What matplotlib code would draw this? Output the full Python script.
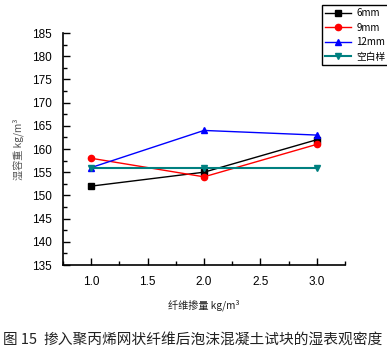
import matplotlib
matplotlib.use("Agg")
import matplotlib.pyplot as plt
from matplotlib.ticker import MultipleLocator

plt.rcParams['font.family'] = ['Liberation Sans', 'Noto Sans CJK SC', 'DejaVu Sans']

x_vals = [1.0, 2.0, 3.0]
s_6mm = [152, 155, 162]
s_9mm = [158, 154, 161]
s_12mm = [156, 164, 163]
s_blank = [156, 156, 156]
labels = ["6mm", "9mm", "12mm", "空白样"]
xtick_labels = ['1.0', '1.5', '2.0', '2.5', '3.0']

fig = plt.figure(figsize=(3.87, 3.56), dpi=100)
ax = fig.add_axes([63/387, 1-265/356, (345-63)/387, (265-33)/356])

ax.plot(x_vals, s_6mm, color='black', marker='s', ms=4, lw=1, label=labels[0])
ax.plot(x_vals, s_9mm, color='red', marker='o', ms=4.5, lw=1, label=labels[1])
ax.plot(x_vals, s_12mm, color='blue', marker='^', ms=5, lw=1, label=labels[2])
ax.plot(x_vals, s_blank, color='#008080', marker='v', ms=5, lw=1.5, label=labels[3])

ax.set_xlim(0.75, 3.25)
ax.set_ylim(135, 185)
ax.xaxis.set_minor_locator(MultipleLocator(0.25))
ax.yaxis.set_major_locator(MultipleLocator(5))
ax.yaxis.set_minor_locator(MultipleLocator(2.5))
ax.set_xticks([1.0, 1.5, 2.0, 2.5, 3.0])
ax.set_xticklabels(xtick_labels)
ax.tick_params(which='major', direction='in', length=5, width=1, labelsize=8.5, pad=8)
ax.tick_params(which='minor', direction='in', length=3, width=1)
ax.spines['top'].set_visible(False)
ax.spines['right'].set_visible(False)
ax.spines['left'].set_linewidth(1.2)
ax.spines['bottom'].set_linewidth(1.2)

cjk = ['Noto Sans CJK SC', 'DejaVu Sans']
ax.set_xlabel('纤维掺量 kg/m³', fontsize=7.3, labelpad=8, color='#222222', family=cjk)
ax.set_ylabel('湿容重 kg/m³', fontsize=7.3, labelpad=6, color='#555555', family=cjk)

leg = fig.legend(loc='upper left', bbox_to_anchor=(322/387, 1-5/356),
                 prop={'family': cjk, 'size': 7},
                 frameon=True, fancybox=False, edgecolor='black', framealpha=1,
                 handlelength=2.6, borderpad=0.35, labelspacing=0.45, handletextpad=0.6,
                 borderaxespad=0)
leg.get_frame().set_linewidth(1.0)

fig.text(3/387, 1-340/356, '图 15', fontsize=10.5, va='center', ha='left',
         color='#222222', family=cjk)
fig.text(43/387, 1-340/356, '掺入聚丙烯网状纤维后泡沫混凝土试块的湿表观密度',
         fontsize=10.6, va='center', ha='left', color='#222222', family=cjk)

fig.savefig('out.png', dpi=100)
